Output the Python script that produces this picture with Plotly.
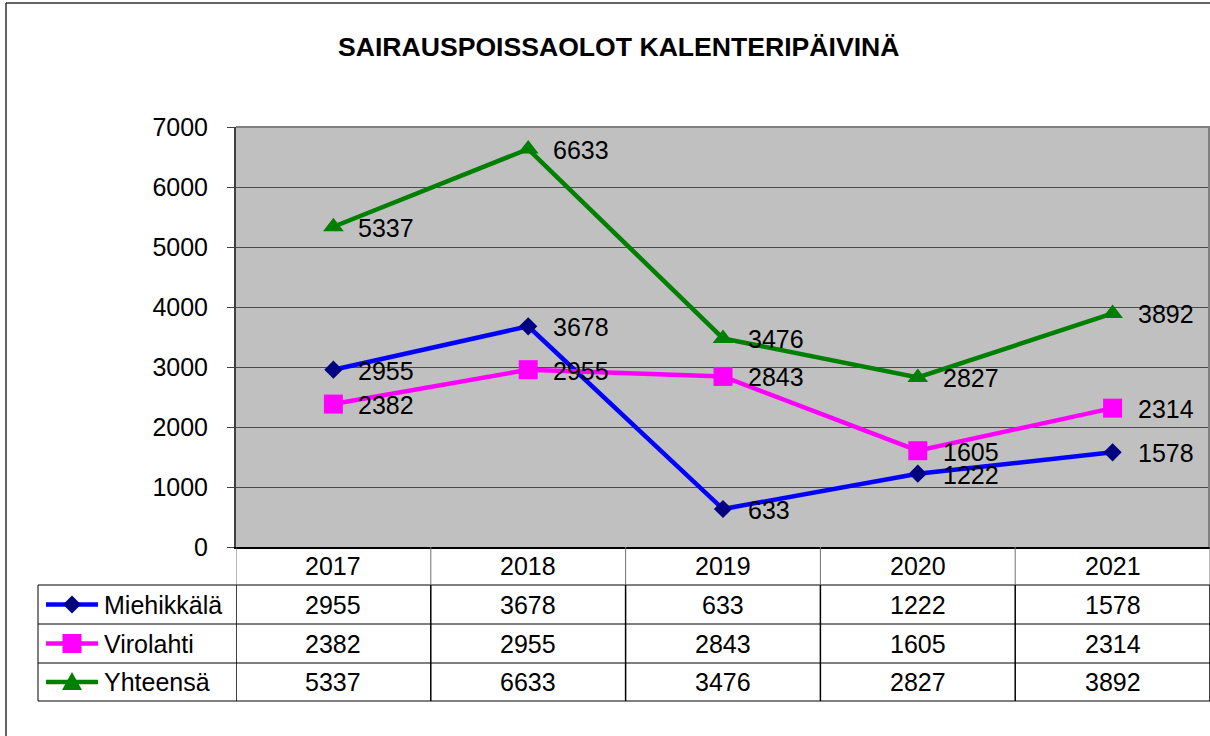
import plotly.graph_objects as go

# ---- data ----
years = ["2017", "2018", "2019", "2020", "2021"]
miehikkala = [2955, 3678, 633, 1222, 1578]
virolahti = [2382, 2955, 2843, 1605, 2314]
yhteensa = [5337, 6633, 3476, 2827, 3892]
series_names = ["Miehikkälä", "Virolahti", "Yhteensä"]
y_ticks = [0, 1000, 2000, 3000, 4000, 5000, 6000, 7000]
title_text = "SAIRAUSPOISSAOLOT KALENTERIPÄIVINÄ"

W, H = 1210, 736
FONT = "Liberation Sans, Arial, sans-serif"


def px(x):
    return x / W


def py(y):
    return 1 - y / H


series = [
    (series_names[0], miehikkala, "#0000FF", "#000080", "diamond", 14),
    (series_names[1], virolahti, "#FF00FF", "#FF00FF", "square", 19),
    (series_names[2], yhteensa, "#008000", "#008000", "triangle-up", 18),
]

fig = go.Figure()
xi = list(range(len(years)))
for name, vals, lc, mc, sym, ms in series:
    fig.add_trace(go.Scatter(
        x=xi, y=vals, mode="lines+markers", name=name,
        line=dict(color=lc, width=4.5),
        marker=dict(symbol=sym, size=ms, color=mc, line=dict(width=0)),
        showlegend=False, hoverinfo="skip",
    ))

annotations = []
# data labels
for name, vals, lc, mc, sym, ms in series:
    for i, v in enumerate(vals):
        annotations.append(dict(
            x=i, y=v, xref="x", yref="y", text=str(v), showarrow=False,
            xanchor="left", yanchor="middle", xshift=23, yshift=-1,
            font=dict(family=FONT, size=25, color="black"),
        ))

# title
annotations.append(dict(
    x=px(618), y=py(47), xref="paper", yref="paper", text="<b>%s</b>" % title_text,
    showarrow=False, xanchor="center", yanchor="middle",
    font=dict(family=FONT, size=26.6, color="black"),
))

# table
row_centers = [604.5, 643.5, 682]
for i, yr in enumerate(years):
    annotations.append(dict(
        x=i, y=py(566), xref="x", yref="paper", text=yr, showarrow=False,
        xanchor="center", yanchor="middle",
        font=dict(family=FONT, size=25, color="black"),
    ))
for r, (name, vals, lc, mc, sym, ms) in enumerate(series):
    yc = row_centers[r]
    for i, v in enumerate(vals):
        annotations.append(dict(
            x=i, y=py(yc), xref="x", yref="paper", text=str(v), showarrow=False,
            xanchor="center", yanchor="middle",
            font=dict(family=FONT, size=25, color="black"),
        ))
    annotations.append(dict(
        x=px(102), y=py(yc), xref="paper", yref="paper", text=name, showarrow=False,
        xanchor="left", yanchor="middle",
        font=dict(family=FONT, size=25, color="black"),
    ))

shapes = []
# outer chart border
shapes.append(dict(type="line", xref="paper", yref="paper", x0=px(6), x1=px(6), y0=py(3), y1=0,
                   line=dict(color="#303030", width=1.5)))
shapes.append(dict(type="line", xref="paper", yref="paper", x0=px(6), x1=1, y0=py(3), y1=py(3),
                   line=dict(color="#303030", width=1.5)))
# plot area top / right border
shapes.append(dict(type="line", xref="paper", yref="paper", x0=px(236), x1=1, y0=py(127), y1=py(127),
                   line=dict(color="#808080", width=2)))
shapes.append(dict(type="line", xref="paper", yref="paper", x0=px(1209), x1=px(1209), y0=py(127), y1=py(547),
                   line=dict(color="#808080", width=2)))
# table horizontal lines
for yl in [585, 624, 663, 701]:
    shapes.append(dict(type="line", xref="paper", yref="paper", x0=px(38), x1=1, y0=py(yl), y1=py(yl),
                       line=dict(color="black", width=1)))
# left border of the legend column
shapes.append(dict(type="line", xref="paper", yref="paper", x0=px(38), x1=px(38), y0=py(585), y1=py(701),
                   line=dict(color="black", width=1)))
# column dividers (category boundaries on x axis)
for b in [k - 0.5 for k in range(len(years) + 1)]:
    shapes.append(dict(type="line", xref="x", yref="paper", x0=b, x1=b, y0=py(547), y1=py(585),
                       line=dict(color="#707070", width=1)))
    shapes.append(dict(type="line", xref="x", yref="paper", x0=b, x1=b, y0=py(585), y1=py(701),
                       line=dict(color="black", width=1.5)))

# legend keys
for r, (name, vals, lc, mc, sym, ms) in enumerate(series):
    yc = row_centers[r]
    shapes.append(dict(type="line", xref="paper", yref="paper", x0=px(46), x1=px(98), y0=py(yc), y1=py(yc),
                       line=dict(color=lc, width=4.5)))
    cx = 72
    if sym == "diamond":
        d = 9
        path = "M %f %f L %f %f L %f %f L %f %f Z" % (
            px(cx - d), py(yc), px(cx), py(yc - d), px(cx + d), py(yc), px(cx), py(yc + d))
    elif sym == "square":
        d = 9.5
        path = "M %f %f L %f %f L %f %f L %f %f Z" % (
            px(cx - d), py(yc - d), px(cx + d), py(yc - d), px(cx + d), py(yc + d), px(cx - d), py(yc + d))
    else:
        path = "M %f %f L %f %f L %f %f Z" % (
            px(cx - 10), py(yc + 8), px(cx), py(yc - 10), px(cx + 10), py(yc + 8))
    shapes.append(dict(type="path", xref="paper", yref="paper", path=path,
                       fillcolor=mc, line=dict(color=mc, width=0)))

fig.update_layout(
    width=W, height=H,
    margin=dict(l=0, r=0, t=0, b=0, pad=0, autoexpand=False),
    paper_bgcolor="white",
    plot_bgcolor="#C0C0C0",
    font=dict(family=FONT, size=25, color="black"),
    xaxis=dict(
        domain=[px(236), 1.0], range=[-0.5, 4.5],
        showticklabels=False, showgrid=False, zeroline=False,
        showline=True, linecolor="black", linewidth=2, ticks="",
    ),
    yaxis=dict(
        domain=[py(547), py(127)], range=[0, 7000],
        tickvals=y_ticks, ticktext=[str(t) for t in y_ticks],
        showgrid=True, gridcolor="#4a4a4a", gridwidth=1,
        zeroline=False, showline=True, linecolor="#404040", linewidth=2,
        ticks="outside", ticklen=7, tickcolor="#404040", tickwidth=1,
        ticklabelstandoff=14,
        tickfont=dict(family=FONT, size=25, color="black"),
    ),
    annotations=annotations,
    shapes=shapes,
    showlegend=False,
)

fig.write_html("out.html")
